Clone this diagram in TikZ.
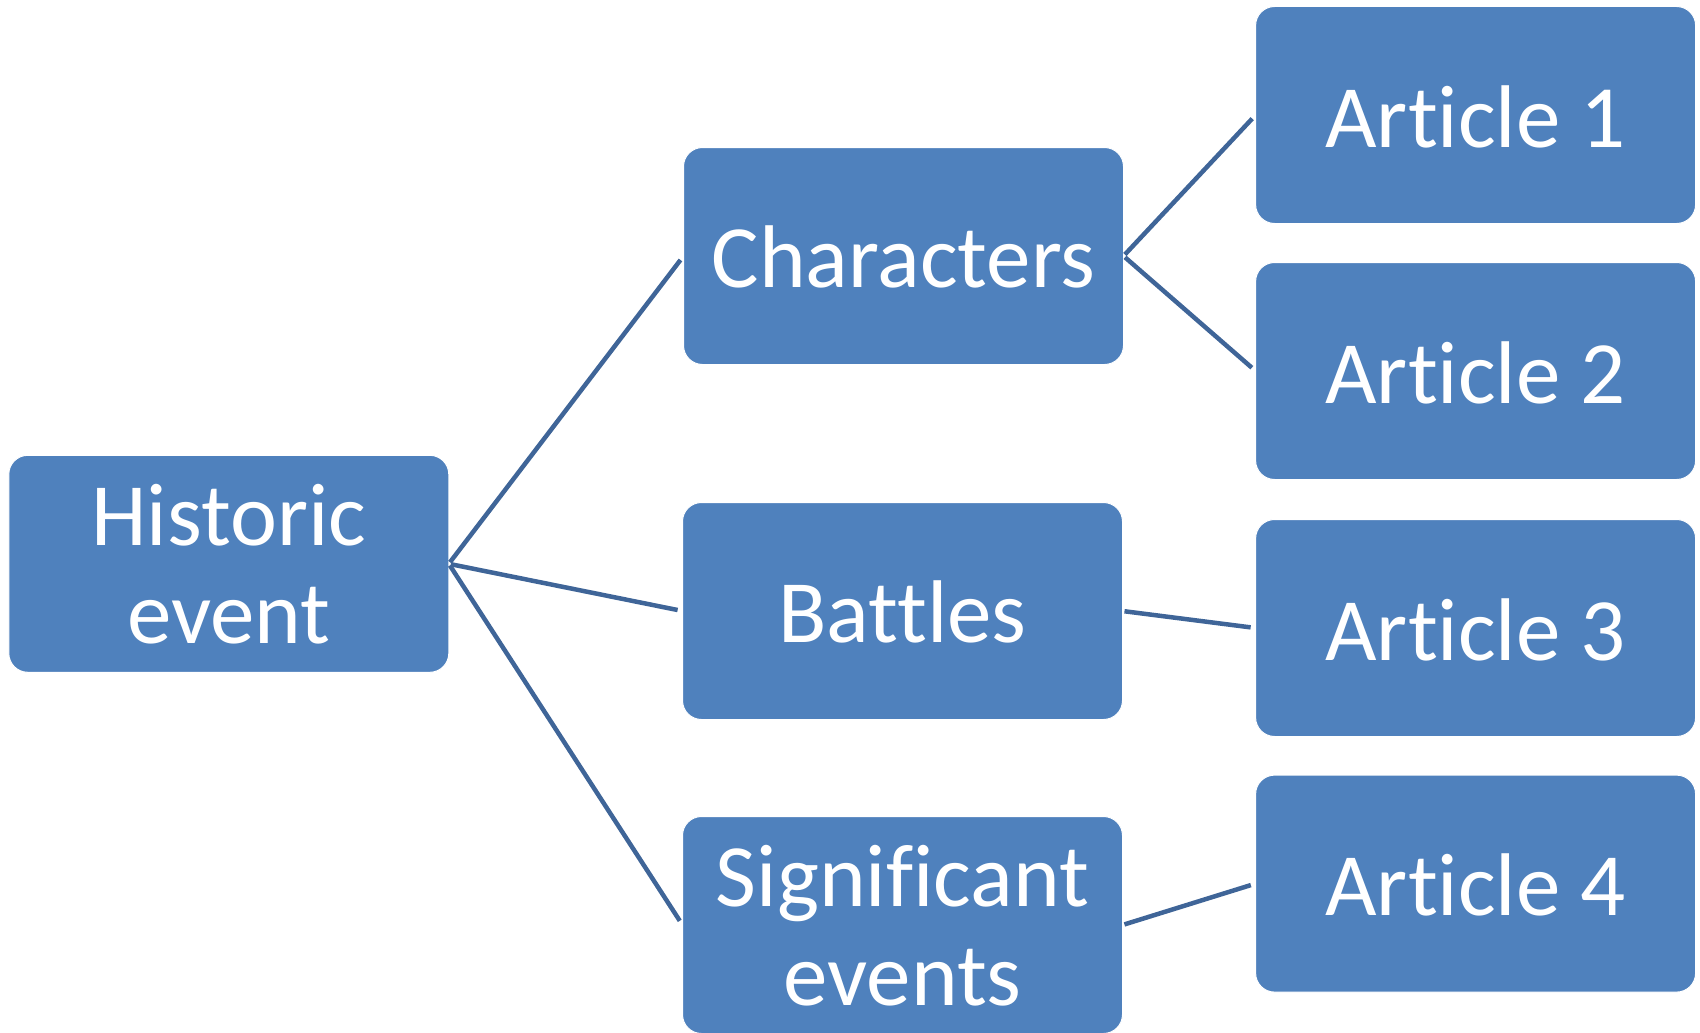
\documentclass[tikz,border=0pt]{standalone}
\usepackage{fontspec}
\setmainfont{Carlito}[Ligatures=NoCommon]
\usetikzlibrary{calc}
\definecolor{boxblue}{HTML}{4F81BD}
\definecolor{linkblue}{RGB}{63,101,152}
\begin{document}
\begin{tikzpicture}[x=1pt,y=-1pt,
  box/.style={draw=white, line width=1pt, fill=boxblue, rounded corners=19pt, minimum width=440pt, minimum height=217pt, inner sep=0pt, outer sep=0pt},
  lbl/.style={text=white, font=\fontsize{89}{98}\selectfont, inner sep=0pt, anchor=base},
  link/.style={draw=linkblue, line width=4.5pt, shorten <=2pt, shorten >=5pt}]
\useasboundingbox (0,0) rectangle (1700,1033);
\node[box] (hist) at (228.8,563.8) {};
\node[box] (char) at (903.5,256) {};
\node[box] (batt) at (902.5,611) {};
\node[box] (sig) at (902.5,925) {};
\node[box] (a1) at (1475.6,115) {};
\node[box] (a2) at (1475.6,371) {};
\node[box] (a3) at (1475.6,628) {};
\node[box] (a4) at (1475.6,883.6) {};
\draw[link] (hist.east) -- (char.west);
\draw[link] (hist.east) -- (batt.west);
\draw[link] (hist.east) -- (sig.west);
\draw[link] (char.east) -- (a1.west);
\draw[link] (char.east) -- (a2.west);
\draw[link] (batt.east) -- (a3.west);
\draw[link] (sig.east) -- (a4.west);
\node[lbl] (thist1) at ($(hist.center)+(0,-18)$) {Historic};
\node[lbl] (thist2) at ($(hist.center)+(0,80)$) {event};
\node[lbl] (tchar) at ($(char.center)+(0,31)$) {Characters};
\node[lbl] (tbatt) at ($(batt.center)+(0,31)$) {Battles};
\node[lbl] (tsig1) at ($(sig.center)+(0,-19)$) {Significant};
\node[lbl] (tsig2) at ($(sig.center)+(0,80)$) {events};
\node[lbl] (ta1) at ($(a1.center)+(0,32)$) {Article 1};
\node[lbl] (ta2) at ($(a2.center)+(0,32)$) {Article 2};
\node[lbl] (ta3) at ($(a3.center)+(0,32)$) {Article 3};
\node[lbl] (ta4) at ($(a4.center)+(0,32)$) {Article 4};
\end{tikzpicture}
\end{document}
